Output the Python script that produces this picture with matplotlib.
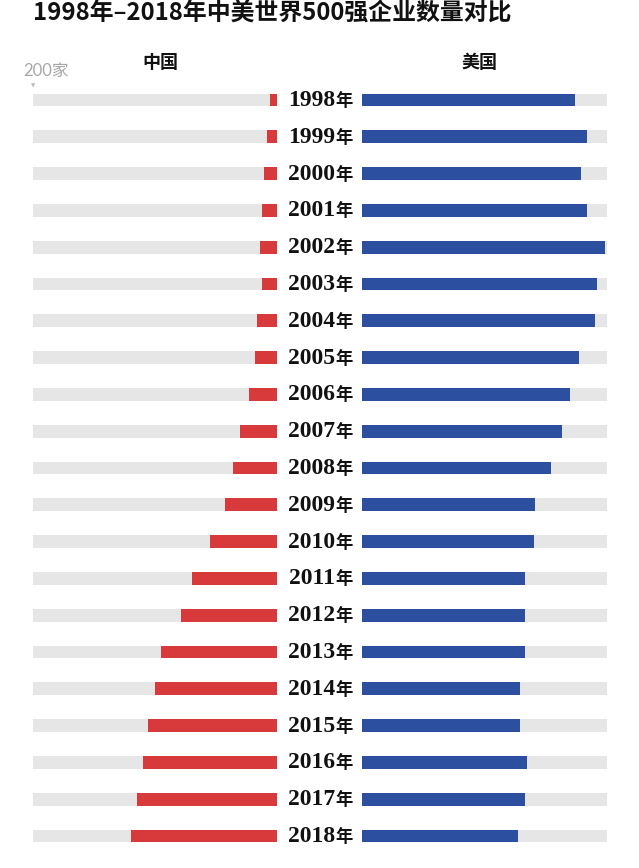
import matplotlib
matplotlib.use("Agg")
import matplotlib.pyplot as plt

years = ["1998年", "1999年", "2000年", "2001年", "2002年", "2003年", "2004年",
         "2005年", "2006年", "2007年", "2008年", "2009年", "2010年", "2011年",
         "2012年", "2013年", "2014年", "2015年", "2016年", "2017年", "2018年"]
china = [6, 8, 11, 12, 14, 12, 16, 18, 23, 30, 36, 43, 55, 70, 79, 95, 100, 106, 110, 115, 120]
usa = [174, 184, 179, 184, 198, 192, 190, 177, 170, 163, 154, 141, 140, 133, 133, 133, 129, 129, 135, 133, 127]
scale_max = 200

plt.rcParams['font.family'] = ['Noto Sans CJK SC', 'DejaVu Sans']

W, H = 639, 868
fig = plt.figure(figsize=(W / 100, H / 100), dpi=100)
fig.patch.set_facecolor('white')

n = len(years)
row_top, row_bot = 100, 836
step = (row_bot - row_top) / (n - 1)
ax_top = row_top - step / 2
ax_bot = row_bot + step / 2
ybottom = 1 - ax_bot / H
yheight = (ax_bot - ax_top) / H

axL = fig.add_axes([33 / W, ybottom, 244 / W, yheight])
axR = fig.add_axes([362 / W, ybottom, 245 / W, yheight])

RED = '#d8393a'
BLUE = '#2d4f9f'
GRAY = '#e6e6e6'
bh = 0.35
pos = list(range(n))

axL.barh(pos, [scale_max] * n, height=bh, color=GRAY)
axL.barh(pos, china, height=bh, color=RED)
axL.set_xlim(scale_max, 0)
axR.barh(pos, [scale_max] * n, height=bh, color=GRAY)
axR.barh(pos, usa, height=bh, color=BLUE)
axR.set_xlim(0, scale_max)

for ax in (axL, axR):
    ax.set_ylim(n - 0.5, -0.5)
    ax.axis('off')

for i, y in enumerate(years):
    yb = 1 - (row_top + i * step + 6) / H
    fig.text(335 / W, yb, y[:-1], ha='right', va='baseline',
             fontsize=17, fontweight='bold', family=['Liberation Serif'],
             color='#111111')
    fig.text(335 / W, yb, y[-1], ha='left', va='baseline',
             fontsize=12.5, fontweight='bold', color='#111111')

fig.text(33 / W, 1 - 14 / H, "1998年–2018年中美世界500强企业数量对比",
         ha='left', va='center', fontsize=17.2, fontweight='bold', color='#111111')
fig.text(160 / W, 1 - 62 / H, "中国", ha='center', va='center', fontsize=13,
         fontweight='bold', color='#111111')
fig.text(480 / W, 1 - 62 / H, "美国", ha='center', va='center', fontsize=13,
         fontweight='bold', color='#111111')
fig.text(23 / W, 1 - 71 / H, "200家", ha='left', va='center', fontsize=12,
         color='#a8a8a8', fontweight='normal', family=['Lato', 'Noto Sans CJK SC'])
fig.text(33 / W, 1 - 86 / H, "▼", ha='center', va='center', fontsize=4,
         color='#bbbbbb', family=['DejaVu Sans'])

fig.savefig('out.png', dpi=100, facecolor='white')
